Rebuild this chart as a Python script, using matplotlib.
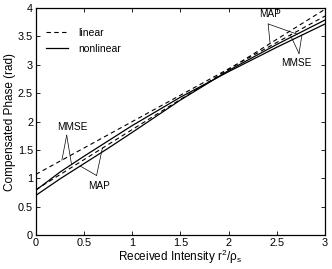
import matplotlib
matplotlib.use("Agg")
import matplotlib.pyplot as plt
import numpy as np

plt.rcParams['font.family'] = ['Liberation Sans', 'DejaVu Sans']
plt.rcParams['mathtext.fontset'] = 'custom'
plt.rcParams['mathtext.rm'] = 'Liberation Sans'
plt.rcParams['mathtext.it'] = 'Liberation Sans'

# received intensity (x) and compensated phase (y)
x_lin = [0.0, 3.0]
map_linear = [0.80, 3.98]
mmse_linear = [1.07, 3.86]

x_nl = [0.0, 0.25, 0.5, 0.75, 1.0, 1.5, 2.0, 2.5, 3.0]
mmse_nonlinear = [0.79, 1.11, 1.39, 1.66, 1.93, 2.43, 2.88, 3.31, 3.72]
map_nonlinear = [0.70, 0.99, 1.26, 1.53, 1.81, 2.38, 2.90, 3.36, 3.79]

xticks = [0, 0.5, 1, 1.5, 2, 2.5, 3]
yticks = [0, 0.5, 1, 1.5, 2, 2.5, 3, 3.5, 4]

fig = plt.figure(figsize=(3.32, 2.69), dpi=100)
ax = fig.add_axes([0.108, 0.126, 0.871, 0.844])

dash = (0, (4, 3))
ax.plot(x_lin, map_linear, color='black', lw=0.8, linestyle=dash, label='linear')
ax.plot(x_lin, mmse_linear, color='black', lw=0.8, linestyle=dash)
ax.plot(x_nl, mmse_nonlinear, color='black', lw=0.9, label='nonlinear')
ax.plot(x_nl, map_nonlinear, color='black', lw=0.9)

ax.set_xlim(0, 3)
ax.set_ylim(0, 4)
ax.set_xticks(xticks)
ax.set_yticks(yticks)
ax.set_xticklabels(['0', '0.5', '1', '1.5', '2', '2.5', '3'])
ax.set_yticklabels(['0', '0.5', '1', '1.5', '2', '2.5', '3', '3.5', '4'])
ax.tick_params(direction='in', length=3, width=0.6, labelsize=7.8,
               top=True, right=True, pad=2)
for s in ax.spines.values():
    s.set_linewidth(0.9)

ax.set_xlabel(r'Received Intensity r$^2$/$\rho_\mathrm{s}$', fontsize=8.5, labelpad=0)
ax.set_ylabel('Compensated Phase (rad)', fontsize=8.5, labelpad=1)

ax.legend(loc='upper left', frameon=False, fontsize=7.5, handlelength=2.1,
          handletextpad=1.0, borderaxespad=0.6, labelspacing=0.6,
          bbox_to_anchor=(0.0, 0.96))


def callout(label, tx, ty, sx, sy, targets):
    ax.text(tx, ty, label, fontsize=7.2, ha='center', va='center')
    for xs, ys, xp in targets:
        yp = np.interp(xp, xs, ys)
        ax.plot([sx, xp], [sy, yp], color='black', lw=0.5)


callout('MMSE', 0.38, 1.90, 0.32, 1.76,
        [(x_lin, mmse_linear, 0.27), (x_nl, mmse_nonlinear, 0.37)])
callout('MAP', 0.66, 0.87, 0.63, 1.05,
        [(x_nl, map_nonlinear, 0.46), (x_lin, map_linear, 0.69)])
callout('MAP', 2.43, 3.90, 2.41, 3.72,
        [(x_lin, map_linear, 2.43), (x_nl, map_nonlinear, 2.71)])
callout('MMSE', 2.70, 3.03, 2.73, 3.2,
        [(x_lin, mmse_linear, 2.64), (x_nl, mmse_nonlinear, 2.76)])

fig.savefig('out.png', dpi=100)
